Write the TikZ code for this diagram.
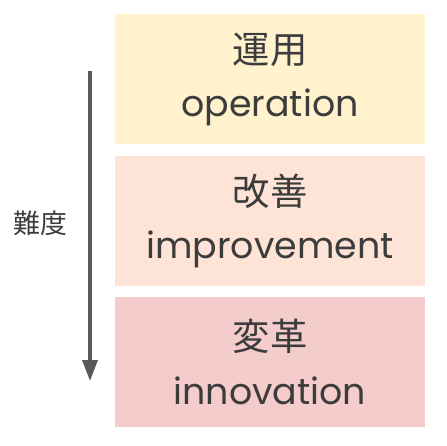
\documentclass[tikz,border=0pt]{standalone}
\usepackage{fontspec}
\setmainfont{Noto Sans CJK JP}
\newfontfamily\latinfont{Poppins}
\usepackage{xcolor}
\usetikzlibrary{positioning, arrows.meta}

\definecolor{opfill}{HTML}{FFF2CC}
\definecolor{imfill}{HTML}{FDE4D6}
\definecolor{infill}{HTML}{F4CCCC}
\definecolor{txtgray}{HTML}{3C3C3C}
\definecolor{arrowgray}{HTML}{595959}

\tikzset{
    stagebox/.style={rectangle, minimum width=310bp, minimum height=130bp, inner sep=0pt,
        align=center, text=txtgray, font=\fontsize{37.5}{54}\selectfont},
    lvlarrow/.style={line width=3.3bp, draw=arrowgray, -{Triangle[length=21bp, width=15bp]}}
}

\begin{document}
\begin{tikzpicture}[x=1bp, y=-1bp]

        % Fix the page size
        \useasboundingbox (0,0) rectangle (447,446);

        % Stage boxes
        \node[stagebox, fill=opfill] (op) at (270,79.5) {運用\\{\latinfont\fontsize{36.5}{54}\selectfont operation}};
        \node[stagebox, fill=imfill, below=11bp of op] (im) {改善\\{\latinfont\fontsize{36.5}{54}\selectfont improvement}};
        \node[stagebox, fill=infill, below=11bp of im] (in) {変革\\{\latinfont\fontsize{36.5}{54}\selectfont innovation}};

        % Difficulty arrow
        \coordinate (atop) at (90,71);
        \coordinate (abot) at (90,381);
        \draw[lvlarrow] (atop) -- (abot);

        % Label
        \node[text=txtgray, font=\fontsize{27}{27}\selectfont] (lvl) at (40,223) {難度};

\end{tikzpicture}
\end{document}
